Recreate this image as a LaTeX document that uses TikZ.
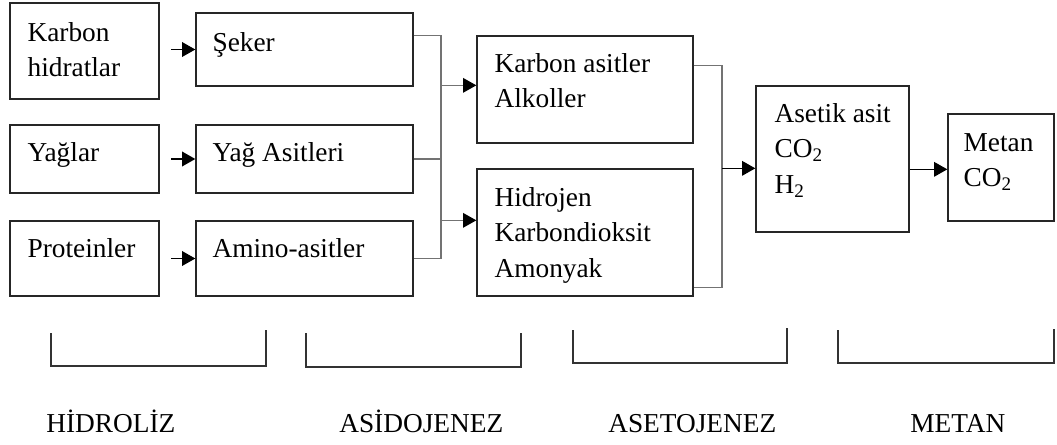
\documentclass[tikz,border=0pt]{standalone}
\usepackage{fontspec}
\setmainfont{Liberation Serif}
\usetikzlibrary{arrows.meta,fit,calc}
\begin{document}
\begin{tikzpicture}[x=0.75pt,y=-0.75pt,
  box/.style={draw=black!85, line width=1pt, inner sep=0pt},
  txt/.style={anchor=base west, inner sep=0pt, font=\fontsize{20.5}{26.6}\selectfont},
  link/.style={draw=black!55, line width=0.9pt},
  arr/.style={draw=black, line width=1.2pt, -{Triangle[length=10pt,width=11pt]}},
  busarr/.style={draw=black!55, line width=0.9pt, -{Triangle[length=10pt,width=11pt,color=black]}},
  brk/.style={draw=black!80, line width=1pt},
  phase/.style={anchor=base west, inner sep=0pt, font=\fontsize{20.5}{24}\selectfont}]
\useasboundingbox (0,0) rectangle (1057,444);

% raw materials and hydrolysis products
\node[box, fit={(10,3) (159,99)}]    (kh)    {};
\node[box, fit={(196,13) (413,86)}]  (seker) {};
\node[box, fit={(10,125) (159,193)}] (yaglar){};
\node[box, fit={(196,125) (413,193)}](yag)   {};
\node[box, fit={(10,221) (159,296)}] (prot)  {};
\node[box, fit={(196,221) (413,296)}](amino) {};
% acidogenesis, acetogenesis, methanogenesis
\node[box, fit={(477,36) (693,143)}] (ka)    {};
\node[box, fit={(477,169) (693,296)}](hid)   {};
\node[box, fit={(756,86) (909,232)}] (as)    {};
\node[box, fit={(948,114) (1054,221)}](me)   {};

% box texts
\node[txt] (khT)  at ($(kh.north west)+(18,39)$)     {\parbox[t]{5cm}{Karbon\\hidratlar}};
\node[txt] (sekT) at ($(seker.north west)+(17,39)$)  {Şeker};
\node[txt] (ygT)  at ($(yaglar.north west)+(18,37)$) {Yağlar};
\node[txt] (yaT)  at ($(yag.north west)+(17,37)$)    {Yağ Asitleri};
\node[txt] (prT)  at ($(prot.north west)+(18,37)$)   {Proteinler};
\node[txt] (amT)  at ($(amino.north west)+(17,37)$)  {Amino-asitler};
\node[txt] (kaT)  at ($(ka.north west)+(18,37)$)     {\parbox[t]{5cm}{Karbon asitler\\Alkoller}};
\node[txt] (hiT)  at ($(hid.north west)+(18,38)$)    {\parbox[t]{5cm}{Hidrojen\\Karbondioksit\\Amonyak}};
\node[txt] (asT)  at ($(as.north west)+(19,37)$)     {\parbox[t]{5cm}{Asetik asit\\CO\textsubscript{2}\\H\textsubscript{2}}};
\node[txt] (meT)  at ($(me.north west)+(16,38)$)     {\parbox[t]{5cm}{Metan\\CO\textsubscript{2}}};

% hydrolysis arrows
\draw[arr] ([xshift=-18pt]seker.west) -- (seker.west);
\draw[arr] ([xshift=-18pt]yag.west)   -- (yag.west);
\draw[arr] ([xshift=-18pt]amino.west) -- (amino.west);

% collector towards acidogenesis products
\coordinate (busL) at (441,0);
\draw[link] ($(seker.north east)+(0,23)$) -| (busL |- amino.east) -- (amino.east);
\draw[link] (yag.east) -- (busL |- yag.east);
\coordinate (inKa)  at ($(ka.north west)+(0,50)$);
\coordinate (inHid) at ($(hid.north west)+(0,52)$);
\draw[busarr] (busL |- inKa)  -- (inKa);
\draw[busarr] (busL |- inHid) -- (inHid);

% collector towards acetogenesis
\coordinate (busR) at (722,0);
\coordinate (hOut) at ($(hid.south east)+(0,-9)$);
\draw[link] ($(ka.north east)+(0,30)$) -| (busR |- hOut) -- (hOut);
\coordinate (inAs) at ($(as.north west)+(0,83)$);
\draw[arr] (busR |- inAs) -- (inAs);

% methanogenesis arrow
\coordinate (outAs) at ($(as.north east)+(0,84)$);
\draw[arr] (outAs) -- (outAs -| me.west);

% phase brackets
\draw[brk] (51,333)  |- (266,366) -- (266,330);
\draw[brk] (306,333) |- (521,367) -- (521,333);
\draw[brk] (573,330) |- (787,363) -- (787,328);
\draw[brk] (838,330) |- (1054,363) -- (1054,329);

% phase names
\node[phase] (p1) at (46,432)  {HİDROLİZ};
\node[phase] (p2) at (339,432) {ASİDOJENEZ};
\node[phase] (p3) at (608,432) {ASETOJENEZ};
\node[phase] (p4) at (910,432) {METAN};
\end{tikzpicture}
\end{document}
